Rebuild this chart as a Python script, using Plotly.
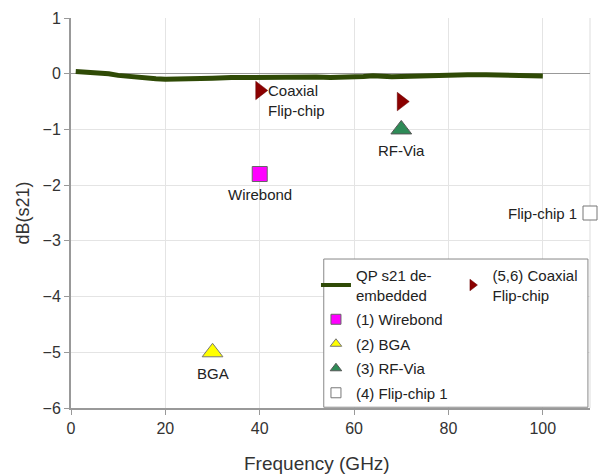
import plotly.graph_objects as go

# QP s21 de-embedded trace
qp_freq = [1, 3, 5, 8, 10, 12, 15, 18, 20, 23, 26, 30, 34, 38, 40, 44, 48, 52, 55, 58, 60, 62, 64, 66, 68, 70, 73, 76, 80, 84, 88, 92, 95, 98, 100]
qp_db = [0.04, 0.03, 0.02, 0.0, -0.03, -0.05, -0.08, -0.09, -0.1, -0.1, -0.09, -0.08, -0.07, -0.065, -0.06, -0.06, -0.055, -0.06, -0.07, -0.07, -0.06, -0.05, -0.035, -0.05, -0.055, -0.05, -0.04, -0.03, -0.025, -0.02, -0.02, -0.03, -0.03, -0.04, -0.04]

wirebond_x, wirebond_y = [40], [-1.8]
bga_x, bga_y = [30], [-5.0]
rfvia_x, rfvia_y = [70], [-1.0]
flip1_x, flip1_y = [110], [-2.5]
coax_x, coax_y = [40, 70], [-0.3, -0.5]

legend_names = ["QP s21 de-<br>embedded", "(1) Wirebond", "(2) BGA", "(3) RF-Via", "(4) Flip-chip 1", "(5,6) Coaxial<br>Flip-chip"]

FONT = "Liberation Sans, Arial, sans-serif"
TXT = "#333333"

LINE_C = "#2f4a06"
WB = dict(symbol="square", color="#ff00ff", line=dict(color="#666666", width=1))
BG = dict(symbol="triangle-up", color="#ffff00", line=dict(color="#777777", width=1))
RF = dict(symbol="triangle-up", color="#2e8b57", line=dict(color="#555555", width=1))
FC = dict(symbol="square", color="#ffffff", line=dict(color="#777777", width=1))
CX = dict(symbol="triangle-right", color="#8b0000", line=dict(color="#660000", width=0.5))

fig = go.Figure()
fig.add_trace(go.Scatter(x=qp_freq, y=qp_db, mode="lines", showlegend=False,
                         line=dict(color=LINE_C, width=5)))
fig.add_trace(go.Scatter(x=wirebond_x, y=wirebond_y, mode="markers", showlegend=False, marker=dict(size=15, **WB)))
fig.add_trace(go.Scatter(x=bga_x, y=bga_y, mode="markers", showlegend=False, marker=dict(size=18, **BG)))
fig.add_trace(go.Scatter(x=rfvia_x, y=rfvia_y, mode="markers", showlegend=False, marker=dict(size=18, **RF)))
fig.add_trace(go.Scatter(x=flip1_x, y=flip1_y, mode="markers", showlegend=False, marker=dict(size=14, **FC),
                         cliponaxis=False))
fig.add_trace(go.Scatter(x=coax_x, y=coax_y, mode="markers", showlegend=False, marker=dict(size=16, **CX)))

# legend entries (small symbols as in the reference)
fig.add_trace(go.Scatter(x=[None], y=[None], mode="lines", name=legend_names[0], legendgroup="g0",
                         line=dict(color=LINE_C, width=4), legend="legend"))
for i, (nm, mk) in enumerate(zip(legend_names[1:5], [WB, BG, RF, FC])):
    fig.add_trace(go.Scatter(x=[None], y=[None], mode="markers", name=nm, legendgroup=f"g{i+1}",
                             marker=dict(size=10, **mk), legend="legend"))
fig.add_trace(go.Scatter(x=[None], y=[None], mode="markers", name=legend_names[5], marker=dict(size=10, **CX),
                         legend="legend2"))

ann_font = dict(family=FONT, size=15, color="#222222")
labels = [
    (coax_x[0], coax_y[0], "Coaxial<br>Flip-chip", "left", "top", 6, 10),
    (wirebond_x[0], wirebond_y[0], "Wirebond", "center", "top", 0, -10),
    (rfvia_x[0], rfvia_y[0], "RF-Via", "center", "top", 0, -11),
    (bga_x[0], bga_y[0], "BGA", "center", "top", 0, -11),
    (flip1_x[0], flip1_y[0], "Flip-chip 1", "right", "middle", -11, 0),
]
for x, y, t, xa, ya, xs, ys in labels:
    fig.add_annotation(x=x, y=y, text=t, showarrow=False, xanchor=xa, yanchor=ya,
                       xshift=xs, yshift=ys, font=ann_font, align="left")

# x-axis title (slightly left of centre, as in the reference)
fig.add_annotation(xref="paper", yref="paper", x=0.474, y=0, yshift=-55, text="Frequency (GHz)",
                   showarrow=False, xanchor="center", yanchor="middle",
                   font=dict(size=19, family=FONT, color=TXT))

# legend box
fig.add_shape(type="rect", xref="paper", yref="paper", x0=0.487, x1=0.996, y0=0.002, y1=0.382,
              line=dict(color="#888888", width=1), fillcolor="white", layer="above")
# right border
fig.add_shape(type="line", xref="paper", yref="paper", x0=1, x1=1, y0=0, y1=1,
              line=dict(color="#dddddd", width=1), layer="below")

leg_common = dict(bgcolor="rgba(0,0,0,0)", borderwidth=0, font=dict(family=FONT, size=15, color="#222222"),
                  itemwidth=30, tracegroupgap=2, traceorder="grouped", yanchor="top", xanchor="left",
                  itemsizing="trace")
fig.update_layout(
    width=598, height=476,
    margin=dict(l=71, r=8, t=18, b=68),
    plot_bgcolor="white", paper_bgcolor="white",
    font=dict(family=FONT, color=TXT),
    legend=dict(x=0.472, y=0.382, **leg_common),
    legend2=dict(x=0.735, y=0.382, **leg_common),
    xaxis=dict(range=[0, 110], tickvals=[0, 20, 40, 60, 80, 100], showgrid=True, gridcolor="#e4e4e4",
               zeroline=False, showline=True, linecolor="#999999", linewidth=2, ticks="outside",
               ticklen=5, tickcolor="#999999", tickfont=dict(size=16, family=FONT, color=TXT), automargin=False),
    yaxis=dict(range=[-6, 1], dtick=1, showgrid=True, gridcolor="#e4e4e4",
               zeroline=True, zerolinecolor="#999999", zerolinewidth=1,
               showline=True, linecolor="#999999", linewidth=2, ticks="outside", automargin=False,
               ticklen=5, tickcolor="#999999", tickfont=dict(size=16, family=FONT, color=TXT),
               title=dict(text="dB(s21)", font=dict(size=18, family=FONT, color=TXT), standoff=8)),
)
fig.write_html("out.html", config={"displayModeBar": False},
               post_script="document.body.style.margin='0';")
